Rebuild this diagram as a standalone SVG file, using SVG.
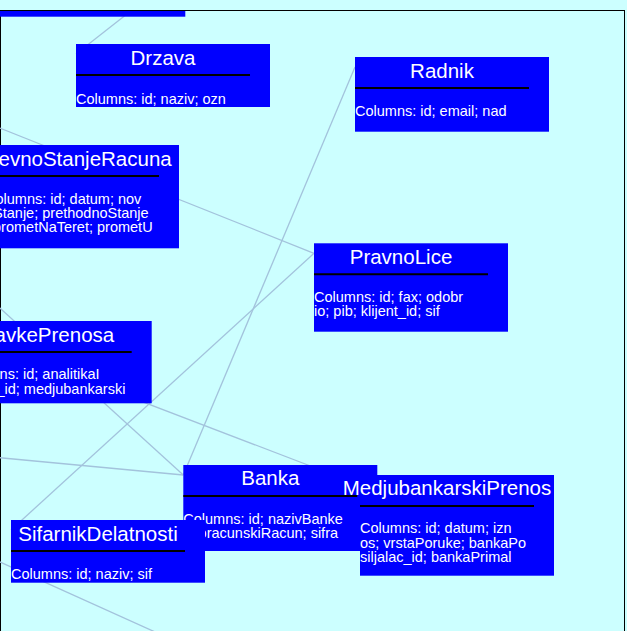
<svg xmlns="http://www.w3.org/2000/svg" width="627" height="631" viewBox="0 0 627 631">
<defs>
<style>
.bg{fill:#ccffff}
.box{fill:#0000ff}
.title{font-family:"Liberation Sans",Arial,sans-serif;font-size:20.5px;fill:#ffffff;text-anchor:middle}
.cols{font-family:"Liberation Sans",Arial,sans-serif;font-size:14.5px;fill:#ffffff}
.rule{stroke:#000000;stroke-width:2}
.edge{stroke:#a3c3dc;stroke-width:1.3;fill:none}
</style>
<clipPath id="view"><rect x="0" y="11" width="624" height="620"/></clipPath>
</defs>
<rect class="bg" width="627" height="631"/>
<rect x="0.5" y="10.5" width="624" height="630" fill="none" stroke="#000000" stroke-width="1"/>
<g clip-path="url(#view)">
<g id="connectors">
<line class="edge" x1="76" y1="54" x2="276" y2="-103"/>
<line class="edge" x1="-100" y1="88.2" x2="314" y2="253.3"/>
<line class="edge" x1="355" y1="67" x2="183.3" y2="475"/>
<line class="edge" x1="314" y1="253.3" x2="11" y2="530"/>
<line class="edge" x1="-60" y1="253.6" x2="183.3" y2="475"/>
<line class="edge" x1="-100" y1="448.3" x2="183.3" y2="475"/>
<line class="edge" x1="-42.3" y1="331" x2="360" y2="485"/>
<line class="edge" x1="-50" y1="539.5" x2="180" y2="643.2"/>
</g>
<g id="node-top">
<rect class="box" x="-8.7" y="-50" width="194" height="66.7"/>
</g>
<g id="node-drzava" transform="translate(76,44)">
<rect class="box" width="194" height="63"/>
<text class="title" x="87" y="20.7">Drzava</text>
<line class="rule" x1="0" y1="31" x2="174" y2="31"/>
<text class="cols" x="0" y="59.5">Columns: id; naziv; ozn</text>
</g>
<g id="node-radnik" transform="translate(355,57)">
<rect class="box" width="194" height="74.7"/>
<text class="title" x="87" y="21">Radnik</text>
<line class="rule" x1="0" y1="31" x2="174" y2="31"/>
<text class="cols" x="0" y="58.8">Columns: id; email; nad</text>
</g>
<g id="node-dnevnostanjeracuna" transform="translate(-15,145)">
<rect class="box" width="194" height="103.3"/>
<text class="title" x="87" y="20.8">DnevnoStanjeRacuna</text>
<line class="rule" x1="0" y1="31" x2="174" y2="31"/>
<text class="cols" y="59"><tspan x="0">Columns: id; datum; nov</tspan><tspan x="0" dy="13.8">oStanje; prethodnoStanje</tspan><tspan x="0" dy="13.8">; prometNaTeret; prometU</tspan></text>
</g>
<g id="node-pravnolice" transform="translate(314,243.3)">
<rect class="box" width="194" height="88.4"/>
<text class="title" x="87" y="20.3">PravnoLice</text>
<line class="rule" x1="0" y1="31" x2="174" y2="31"/>
<text class="cols" y="58.6"><tspan x="0">Columns: id; fax; odobr</tspan><tspan x="0" dy="14.4">io; pib; klijent_id; sif</tspan></text>
</g>
<g id="node-stavkeprenosa" transform="translate(-42.3,321)">
<rect class="box" width="194" height="82.3"/>
<text class="title" x="87" y="20.7">StavkePrenosa</text>
<line class="rule" x1="0" y1="31" x2="174" y2="31"/>
<text class="cols" y="58.3"><tspan x="0">Columns: id; analitikaI</tspan><tspan x="0" dy="14.4">zvoda_id; medjubankarski</tspan></text>
</g>
<g id="node-banka" transform="translate(183.3,465)">
<rect class="box" width="194" height="86"/>
<text class="title" x="87" y="19.8">Banka</text>
<line class="rule" x1="0" y1="31" x2="174" y2="31"/>
<text class="cols" y="58.6"><tspan x="0">Columns: id; nazivBanke</tspan><tspan x="0" dy="14.4">ziroracunskiRacun; sifra</tspan></text>
</g>
<g id="node-medjubankarskiprenos" transform="translate(360,475)">
<rect class="box" width="194" height="100.7"/>
<text class="title" x="87" y="19.8">MedjubankarskiPrenos</text>
<line class="rule" x1="0" y1="31" x2="174" y2="31"/>
<text class="cols" y="58.4"><tspan x="0">Columns: id; datum; izn</tspan><tspan x="0" dy="14.2">os; vrstaPoruke; bankaPo</tspan><tspan x="0" dy="14.2">siljalac_id; bankaPrimal</tspan></text>
</g>
<g id="node-sifarnikdelatnosti" transform="translate(11,520)">
<rect class="box" width="194" height="62.7"/>
<text class="title" x="87" y="20.6">SifarnikDelatnosti</text>
<line class="rule" x1="0" y1="31" x2="174" y2="31"/>
<text class="cols" x="0" y="59">Columns: id; naziv; sif</text>
</g>
</g>
</svg>
